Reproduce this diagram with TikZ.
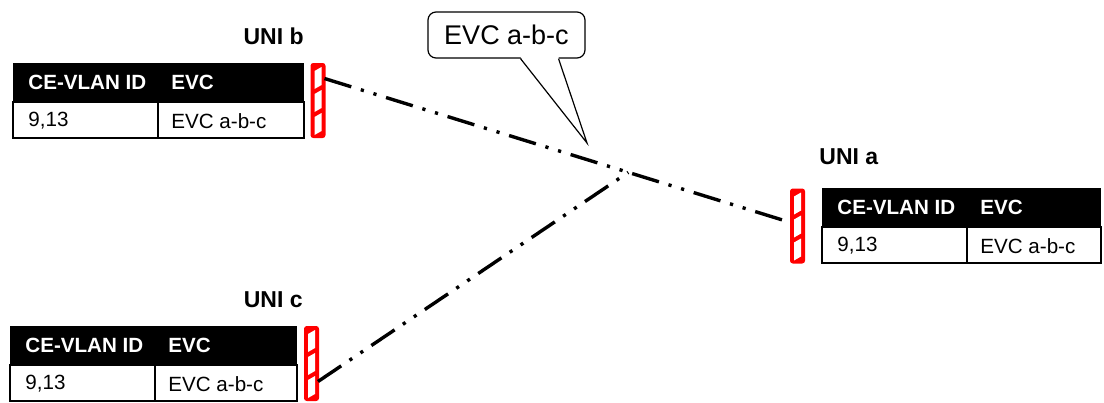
\documentclass[tikz,border=0pt]{standalone}
\usepackage{fontspec}
\setmainfont{Liberation Sans}
\usepackage{tikz}
\usetikzlibrary{calc}
\newcommand{\tblfont}{\fontsize{10.3}{12}\selectfont}
\newcommand{\unifont}{\fontsize{11.5}{13}\selectfont\bfseries}
\newcommand{\notefont}{\fontsize{13.5}{16}\selectfont}
\tikzset{
  hdtext/.style={anchor=west,inner sep=0pt,text=white,font=\tblfont\bfseries},
  celltext/.style={anchor=west,inner sep=0pt,font=\tblfont},
  tblrule/.style={line width=0.8pt},
  unilabel/.style={inner sep=0pt,font=\unifont},
  unibarbox/.style={draw=red,fill=red,line width=1pt,rounded corners=1pt,
    minimum width=6.5pt,minimum height=36.5pt,inner sep=0pt,outer sep=0pt},
  evcline/.style={line width=1.7pt,
    dash pattern=on 14pt off 5pt on 1.6pt off 5pt on 1.6pt off 5pt}
}
% #1 name, #2 left, #3 top, #4 width
\newcommand{\vlantable}[4]{%
  \fill (#2,#3) rectangle ++(#4,39);
  \draw[tblrule] (#2,#3+39) rectangle ++(#4,36);
  \draw[tblrule] (#2+145,#3+39) -- ++(0,36);
  \node[hdtext] (#1-id) at (#2+15,#3+19.5) {CE-VLAN ID};
  \node[hdtext] (#1-evc) at (#2+158,#3+19.5) {EVC};
  \node[celltext] (#1-vid) at (#2+15,#3+58) {9,13};
  \node[celltext] (#1-name) at (#2+158,#3+58) {EVC a-b-c};
}
% #1 name, #2,#3 centre
\newcommand{\unibar}[3]{%
  \node[unibarbox] (#1) at (#2,#3) {};
  \foreach \k in {0,1,2}
    {\fill[white] ($(#1.north west)+(3,{7+\k*23})$) -- ($(#1.north west)+(10,{3+\k*23})$)
       -- ($(#1.north west)+(10,{21+\k*23})$) -- ($(#1.north west)+(3,{25+\k*23})$) -- cycle;}
}

\begin{document}
\begin{tikzpicture}[x=0.5pt,y=-0.5pt]
  \useasboundingbox (0,0) rectangle (1104,402);

  \vlantable{tblb}{13}{63}{291}
  \vlantable{tbla}{822}{188}{279}
  \vlantable{tblc}{10}{326}{287}

  \node[unilabel,anchor=east] (unib-lbl) at (304,36) {UNI b};
  \node[unilabel,anchor=west] (unia-lbl) at (819,157) {UNI a};
  \node[unilabel,anchor=east] (unic-lbl) at (303,300) {UNI c};

  \unibar{barb}{318}{100.5}
  \unibar{bara}{797.5}{226}
  \unibar{barc}{311.5}{363.5}

  % the EVC a-b-c lines
  \coordinate (bstart) at ($(barb.east)+(0,-22)$);
  \coordinate (aend) at ($(bara.west)+(-2,-4)$);
  \coordinate (cstart) at ($(barc.east)+(0,18)$);
  \coordinate (jn) at ($(bstart)!0.654!(aend)$);
  \draw[evcline] (bstart) -- (aend);
  \draw[evcline] (cstart) -- (jn);

  % callout
  \node[draw,line width=0.6pt,rounded corners=4pt,fill=white,
    minimum width=78.5pt,minimum height=23pt,font=\notefont]
    (evcnote) at (506.5,35) {EVC a-b-c};
  \coordinate (notetip) at (587,143);
  \fill[white] ($(evcnote.south)+(14,-1.5)$) -- ($(evcnote.south)+(52,-1.5)$)
    -- (notetip) -- cycle;
  \draw[line width=0.6pt] ($(evcnote.south)+(14,0)$) -- (notetip)
    -- ($(evcnote.south)+(52,0)$);
\end{tikzpicture}
\end{document}
